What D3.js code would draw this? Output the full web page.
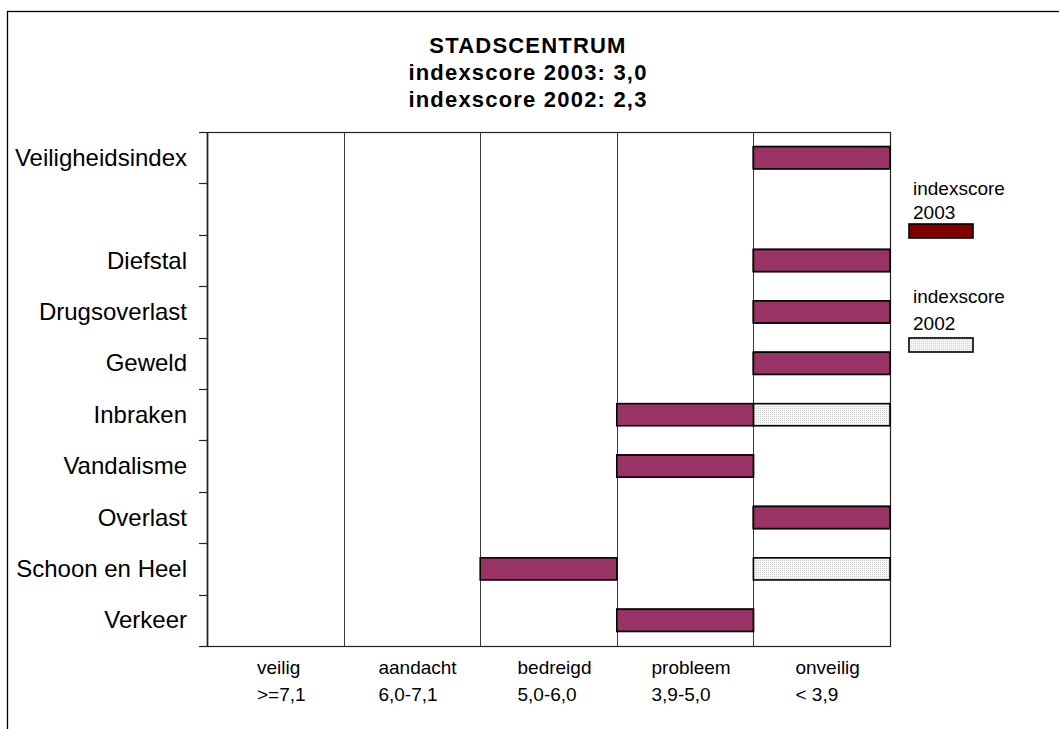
<!DOCTYPE html>
<html>
<head>
<meta charset="utf-8">
<script src="https://cdn.jsdelivr.net/npm/d3@7"></script>
<style>
  body { margin: 0; background: #fff; }
  svg { display: block; font-family: "Liberation Sans", Arial, sans-serif; }
</style>
</head>
<body>
<script>
// categories top to bottom, "" is the empty row under the index
var categories = ["Veiligheidsindex", "", "Diefstal", "Drugsoverlast", "Geweld",
                  "Inbraken", "Vandalisme", "Overlast", "Schoon en Heel", "Verkeer"];
var classes = ["veilig", "aandacht", "bedreigd", "probleem", "onveilig"];
var classRanges = [">=7,1", "6,0-7,1", "5,0-6,0", "3,9-5,0", "< 3,9"];
var class2003 = ["onveilig", null, "onveilig", "onveilig", "onveilig",
                 "probleem", "probleem", "onveilig", "bedreigd", "probleem"];
var class2002 = ["onveilig", null, "onveilig", "onveilig", "onveilig",
                 "onveilig", "probleem", "onveilig", "onveilig", "probleem"];
var titleLines = ["STADSCENTRUM", "indexscore 2003: 3,0", "indexscore 2002: 2,3"];
var legendItems = [["indexscore", "2003"], ["indexscore", "2002"]];

var w = 1059, h = 729,
    pL = 207, pR = 890, pT = 132, pB = 646;

var svg = d3.select("body").append("svg")
    .attr("width", w)
    .attr("height", h);

var defs = svg.append("defs");
var pat = defs.append("pattern")
    .attr("id", "dots")
    .attr("width", 2).attr("height", 2)
    .attr("patternUnits", "userSpaceOnUse");
pat.append("rect").attr("width", 2).attr("height", 2).attr("fill", "#f4f4f4");
pat.append("rect").attr("width", 1).attr("height", 1).attr("fill", "#d4d4d4");

// outer chart border (only left and top are visible)
svg.append("rect")
    .attr("x", 7.5).attr("y", 11.5)
    .attr("width", 1200).attr("height", 900)
    .attr("fill", "none").attr("stroke", "#000").attr("stroke-width", 1.3);

var x = d3.scaleBand().domain(classes).range([pL, pR]);
var y = d3.scaleBand().domain(d3.range(categories.length)).range([pT, pB]);

var barH = y.bandwidth() * 0.43;

// column grid
svg.append("g").selectAll("line")
    .data(classes.slice(1))
    .enter().append("line")
    .attr("x1", function(d) { return Math.round(x(d)) + 0.5; })
    .attr("x2", function(d) { return Math.round(x(d)) + 0.5; })
    .attr("y1", pT).attr("y2", pB)
    .attr("stroke", "#3a3a3a").attr("stroke-width", 1);

// plot frame
svg.append("rect")
    .attr("x", pL + 0.5).attr("y", pT + 0.5)
    .attr("width", pR - pL).attr("height", pB - pT)
    .attr("fill", "none").attr("stroke", "#222").attr("stroke-width", 1.2);

// 2002 bars first, 2003 on top
function bars(data, fill) {
    svg.append("g").selectAll("rect")
        .data(data.map(function(c, i) { return {c: c, i: i}; }).filter(function(d) { return d.c; }))
        .enter().append("rect")
        .attr("x", function(d) { return x(d.c); })
        .attr("y", function(d) { return y(d.i) + (y.bandwidth() - barH) / 2; })
        .attr("width", x.bandwidth())
        .attr("height", barH)
        .attr("fill", fill)
        .attr("stroke", "#000")
        .attr("stroke-width", 1.6);
}
bars(class2002, "url(#dots)");
bars(class2003, "#993366");

// left axis
var yAxis = svg.append("g");
yAxis.append("line")
    .attr("x1", pL + 0.5).attr("x2", pL + 0.5)
    .attr("y1", pT).attr("y2", pB)
    .attr("stroke", "#222").attr("stroke-width", 1.6);
yAxis.selectAll(".tk")
    .data(d3.range(categories.length + 1))
    .enter().append("line")
    .attr("x1", pL - 8).attr("x2", pL)
    .attr("y1", function(d) { return Math.round(pT + d * y.step()) + 0.5; })
    .attr("y2", function(d) { return Math.round(pT + d * y.step()) + 0.5; })
    .attr("stroke", "#222").attr("stroke-width", 1.2);
yAxis.selectAll("text")
    .data(categories)
    .enter().append("text")
    .attr("x", pL - 20)
    .attr("y", function(d, i) { return y(i) + y.bandwidth() / 2 + 8; })
    .attr("text-anchor", "end")
    .style("font-size", "24px")
    .text(function(d) { return d; });

// class labels below
var xl = svg.append("g").selectAll("text")
    .data(classes)
    .enter().append("text")
    .style("font-size", "19px");
xl.append("tspan").attr("x", 0).attr("y", 674).text(function(d) { return d; });
xl.append("tspan").attr("x", 0).attr("y", 701).text(function(d, i) { return classRanges[i]; });
xl.each(function(d) {
    var bw = this.getBBox().width;
    var x0 = x(d) + x.bandwidth() / 2 - bw / 2 + 6;
    d3.select(this).selectAll("tspan").attr("x", x0);
});

// title
svg.append("g").selectAll("text")
    .data(titleLines)
    .enter().append("text")
    .attr("x", 528)
    .attr("y", function(d, i) { return 53 + i * 27; })
    .attr("text-anchor", "middle")
    .style("font-size", "22px")
    .style("font-weight", "bold")
    .style("letter-spacing", "1.2px")
    .text(function(d) { return d; });

// legend
var lg = svg.append("g").selectAll("g")
    .data(legendItems)
    .enter().append("g")
    .attr("transform", function(d, i) { return "translate(909," + (195 + i * 108) + ")"; });
lg.append("text").attr("x", 4).attr("y", 0).style("font-size", "19px").text(function(d) { return d[0]; });
lg.append("text").attr("x", 4).attr("y", function(d, i) { return 24 + i * 3; }).style("font-size", "19px").text(function(d) { return d[1]; });
lg.append("rect")
    .attr("x", 0).attr("y", function(d, i) { return 29 + i * 6; })
    .attr("width", 64).attr("height", 14)
    .attr("fill", function(d, i) { return i == 0 ? "#800000" : "url(#dots)"; })
    .attr("stroke", "#000").attr("stroke-width", 1.6);
</script>
</body>
</html>
